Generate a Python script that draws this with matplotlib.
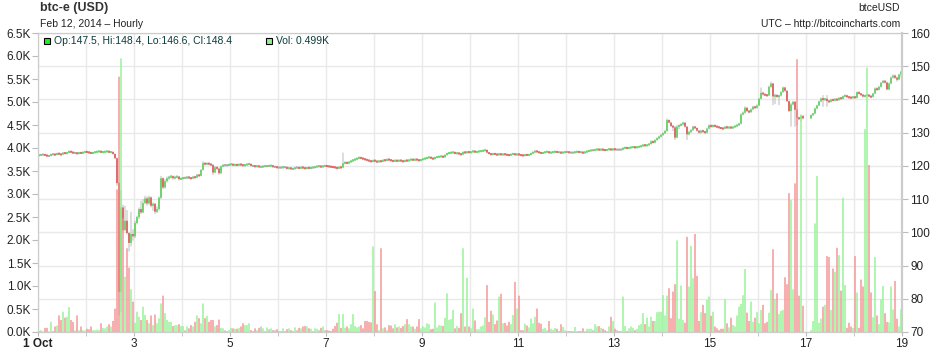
import numpy as np
import pandas as pd
import matplotlib
matplotlib.use('Agg')
import matplotlib.pyplot as plt
from matplotlib.patches import Rectangle

plt.rcParams['font.family'] = ['Liberation Sans', 'DejaVu Sans']

nan = np.nan

# Hourly btc-e candles, 1 Oct 00:00 -> 18 Oct 23:00 (hours 383-385 have no trades)
first_open = 123.2
closes = [
    123.2, 123.4, 123.4, 123.2, 123.0, 123.0, 123.5, 123.5, 123.3, 123.8,
    123.5, 123.4, 124.0, 123.7, 124.0, 124.4, 124.1, 123.9, 123.9, 123.7,
    124.0, 123.8, 124.1, 124.3, 124.1, 124.0, 123.8, 124.0, 124.2, 124.3,
    124.4, 124.1, 124.2, 124.3, 124.4, 124.1, 124.2, 123.6, 122.3, 114.8,
    82.0, 107.5, 100.7, 103.5, 99.8, 96.8, 99.5, 98.8, 102.8, 104.6,
    107.0, 106.0, 108.8, 110.2, 108.7, 110.5, 108.0, 108.6, 106.2, 107.0,
    110.4, 116.3, 113.5, 115.4, 116.3, 116.6, 116.9, 116.3, 116.6, 116.8,
    116.0, 116.2, 116.4, 116.4, 116.6, 116.4, 116.2, 116.7, 116.5, 117.3,
    117.0, 118.8, 120.8, 120.5, 120.8, 120.5, 120.3, 118.0, 119.6, 119.2,
    117.8, 119.9, 120.2, 120.2, 120.2, 120.4, 120.5, 120.2, 120.4, 120.2,
    120.5, 120.3, 120.1, 120.3, 120.5, 120.6, 120.0, 120.0, 119.8, 120.0,
    119.7, 119.7, 119.9, 119.9, 120.0, 120.0, 120.1, 119.7, 119.7, 119.5,
    119.5, 119.5, 119.6, 119.6, 119.2, 119.4, 119.1, 119.1, 119.5, 119.5,
    119.3, 119.6, 119.4, 119.2, 119.5, 119.3, 119.5, 119.5, 119.7, 119.9,
    119.9, 119.7, 120.0, 120.0, 119.9, 119.8, 119.7, 119.6, 119.5, 119.3,
    119.6, 119.5, 120.8, 121.0, 120.8, 121.2, 121.5, 121.8, 122.0, 122.3,
    122.5, 122.3, 122.1, 121.9, 121.7, 121.5, 121.3, 121.7, 121.4, 121.2,
    121.5, 121.3, 121.8, 121.6, 122.0, 121.8, 121.6, 121.4, 121.7, 121.4,
    121.7, 121.5, 121.3, 121.7, 121.5, 121.8, 122.0, 121.7, 122.0, 121.8,
    121.6, 121.9, 122.1, 122.3, 122.5, 122.6, 122.3, 122.1, 122.6, 122.7,
    122.8, 122.9, 122.6, 123.3, 123.8, 123.9, 124.0, 124.1, 123.7, 123.9,
    123.6, 123.4, 124.2, 123.9, 124.3, 124.0, 124.2, 124.5, 124.1, 124.3,
    124.4, 124.5, 124.6, 124.8, 124.0, 123.7, 123.4, 123.7, 123.5, 123.3,
    123.7, 123.3, 123.6, 123.4, 123.3, 123.2, 123.5, 123.7, 123.3, 123.6,
    123.3, 123.2, 123.1, 123.4, 123.2, 123.4, 123.8, 124.1, 124.5, 124.2,
    124.0, 123.8, 124.0, 124.2, 124.3, 123.9, 124.1, 124.2, 124.3, 124.1,
    124.1, 123.9, 124.1, 124.2, 124.2, 124.0, 124.0, 124.0, 124.2, 124.3,
    124.1, 124.1, 123.9, 124.2, 124.4, 124.6, 124.7, 124.7, 124.9, 125.0,
    124.8, 125.0, 124.8, 124.7, 124.9, 125.1, 124.8, 125.1, 124.9, 124.9,
    124.9, 124.9, 125.4, 125.5, 125.3, 125.5, 125.6, 125.7, 125.5, 125.7,
    125.8, 126.0, 126.3, 126.1, 126.3, 126.6, 127.4, 127.0, 127.8, 128.3,
    128.8, 129.3, 129.8, 130.5, 133.8, 133.0, 132.0, 131.6, 128.5, 131.8,
    132.2, 132.5, 133.0, 131.8, 129.5, 130.2, 130.8, 131.8, 131.4, 130.6,
    130.0, 130.6, 130.3, 130.0, 131.2, 132.2, 131.8, 132.2, 131.9, 131.7,
    131.5, 131.3, 131.2, 131.8, 131.4, 131.7, 131.4, 131.7, 132.0, 132.3,
    132.7, 135.5, 136.0, 137.5, 136.5, 136.2, 137.0, 137.8, 137.5, 138.2,
    140.2, 142.0, 141.5, 141.3, 141.2, 143.8, 144.8, 140.9, 141.3, 140.8,
    141.2, 142.2, 143.6, 142.6, 139.5, 136.5, 138.5, 139.3, 136.9, 134.5,
    134.2, 135.0, 134.3, nan, nan, nan, 135.3, 135.8, 137.3, 138.2,
    139.4, 140.3, 139.9, 140.2, 139.5, 139.3, 140.0, 139.7, 140.1, 139.8,
    140.5, 140.2, 141.0, 141.2, 140.7, 140.6, 140.5, 140.8, 140.5, 142.2,
    141.7, 141.4, 140.9, 141.2, 141.4, 140.9, 140.8, 141.8, 143.3, 142.9,
    143.8, 145.0, 145.6, 145.1, 143.0, 144.8, 146.6, 147.2, 146.5, 146.0,
    147.5, 148.4,
]
highs = [
    123.5, 123.6, 123.6, 123.6, 123.4, 123.2, 123.7, 123.8, 123.7, 124.0,
    124.0, 123.7, 124.2, 124.2, 124.2, 124.6, 124.5, 124.3, 124.1, 124.1,
    124.2, 124.2, 124.3, 124.5, 124.5, 124.3, 124.2, 124.2, 124.4, 124.5,
    124.6, 124.6, 124.4, 124.5, 124.6, 124.6, 124.4, 124.4, 123.8, 122.5,
    115.2, 112.7, 108.3, 108.0, 106.7, 100.0, 106.2, 101.0, 103.5, 105.0,
    107.5, 109.5, 110.0, 111.0, 110.8, 111.0, 110.8, 109.0, 108.8, 107.8,
    110.8, 117.0, 116.5, 116.0, 116.8, 117.0, 117.3, 117.1, 117.0, 117.2,
    117.0, 116.5, 116.7, 116.7, 116.9, 116.9, 116.6, 117.0, 117.0, 117.6,
    117.6, 119.0, 121.4, 121.0, 121.0, 121.0, 120.7, 120.5, 119.9, 119.8,
    119.5, 120.1, 120.5, 120.5, 120.4, 120.7, 120.8, 120.7, 120.6, 120.6,
    120.7, 120.7, 120.5, 120.5, 120.7, 120.9, 120.8, 120.3, 120.2, 120.3,
    120.2, 120.0, 120.1, 120.2, 120.2, 120.2, 120.4, 120.3, 120.0, 119.9,
    119.8, 119.7, 119.9, 119.8, 119.8, 119.6, 119.6, 119.4, 119.7, 119.8,
    119.7, 119.8, 119.8, 119.6, 119.7, 119.7, 119.7, 119.7, 119.9, 120.1,
    120.1, 120.1, 120.2, 120.3, 120.2, 120.1, 120.0, 119.9, 119.8, 119.7,
    119.8, 119.8, 124.0, 121.4, 121.3, 121.4, 121.7, 122.1, 122.3, 122.5,
    122.8, 122.7, 122.5, 122.3, 122.1, 121.9, 121.7, 121.9, 121.9, 121.6,
    121.7, 121.7, 122.0, 122.0, 122.2, 122.2, 122.0, 121.8, 121.9, 121.9,
    121.9, 121.9, 121.7, 121.9, 121.9, 122.0, 122.2, 122.2, 122.2, 122.2,
    122.0, 122.1, 122.3, 122.5, 122.7, 122.9, 122.8, 122.5, 122.8, 123.0,
    123.0, 123.1, 123.1, 123.5, 124.0, 124.1, 124.3, 124.4, 124.3, 124.1,
    124.1, 123.8, 124.4, 124.4, 124.5, 124.5, 124.4, 124.7, 124.7, 124.5,
    124.6, 124.7, 124.8, 125.0, 125.0, 124.2, 123.9, 123.9, 123.9, 123.7,
    123.9, 123.9, 123.8, 123.8, 123.6, 123.5, 123.7, 123.9, 123.9, 123.8,
    123.8, 123.5, 123.4, 123.6, 123.6, 123.6, 124.0, 124.3, 124.7, 124.7,
    124.4, 124.2, 124.2, 124.4, 124.5, 124.5, 124.3, 124.4, 124.5, 124.5,
    124.3, 124.3, 124.3, 124.4, 124.4, 124.4, 124.2, 124.2, 124.4, 124.5,
    124.5, 124.3, 124.3, 124.4, 124.6, 124.8, 124.9, 124.9, 125.1, 125.2,
    125.2, 125.2, 125.2, 125.0, 125.1, 125.3, 125.3, 125.3, 125.3, 125.1,
    125.1, 125.1, 125.6, 125.7, 125.7, 125.7, 125.8, 125.9, 125.9, 125.9,
    126.0, 126.2, 126.5, 126.5, 126.5, 126.8, 127.7, 127.6, 128.0, 128.6,
    129.1, 129.6, 130.1, 130.8, 134.3, 134.0, 133.3, 132.3, 132.0, 132.3,
    132.5, 132.8, 133.3, 133.2, 132.0, 130.6, 131.1, 132.1, 132.0, 131.6,
    130.8, 130.9, 130.9, 130.5, 131.4, 132.5, 132.5, 132.5, 132.4, 132.1,
    131.9, 131.7, 131.5, 132.0, 132.1, 131.9, 131.9, 131.9, 132.2, 132.5,
    133.0, 135.8, 136.4, 137.9, 137.7, 136.8, 137.3, 138.1, 138.0, 138.5,
    140.5, 143.6, 142.3, 141.8, 141.6, 144.2, 145.3, 145.0, 141.7, 141.6,
    141.4, 142.5, 143.9, 143.8, 142.8, 139.7, 139.0, 139.6, 139.5, 137.2,
    134.8, 135.3, 135.3, nan, nan, nan, 135.5, 136.0, 137.5, 138.4,
    139.6, 140.6, 141.3, 140.4, 141.3, 139.8, 140.2, 140.2, 140.4, 140.3,
    140.7, 140.7, 141.2, 141.4, 141.4, 140.9, 140.8, 141.0, 141.0, 142.4,
    142.5, 141.9, 141.6, 141.4, 141.6, 141.6, 141.1, 142.0, 143.6, 143.7,
    144.1, 145.3, 145.9, 145.8, 145.4, 145.1, 146.9, 147.5, 147.5, 146.9,
    147.7, 148.4,
]
lows = [
    122.9, 123.0, 123.2, 123.0, 122.8, 122.8, 122.9, 123.2, 123.1, 123.2,
    123.3, 123.2, 123.3, 123.5, 123.5, 123.9, 123.9, 123.7, 123.7, 123.5,
    123.5, 123.6, 123.6, 123.9, 123.9, 123.8, 123.6, 123.6, 123.8, 124.0,
    124.1, 123.9, 123.9, 124.0, 124.1, 123.9, 123.9, 123.4, 122.0, 114.0,
    75.0, 76.0, 100.2, 100.3, 99.4, 94.2, 95.7, 97.5, 98.3, 102.4,
    104.0, 105.5, 105.8, 108.5, 108.0, 108.3, 107.5, 106.5, 105.5, 105.8,
    106.6, 110.0, 113.0, 113.2, 115.0, 115.8, 116.2, 115.8, 116.0, 116.3,
    115.6, 115.8, 116.0, 116.1, 116.2, 116.1, 115.9, 116.0, 116.2, 116.3,
    116.8, 116.9, 118.6, 120.2, 120.3, 120.2, 120.0, 117.3, 117.8, 118.8,
    117.3, 117.6, 119.7, 120.0, 119.9, 120.0, 120.2, 120.0, 120.0, 119.9,
    120.0, 120.1, 119.9, 119.9, 120.1, 120.3, 119.8, 119.7, 119.6, 119.6,
    119.5, 119.4, 119.5, 119.7, 119.7, 119.8, 119.8, 119.5, 119.4, 119.3,
    119.3, 119.2, 119.3, 119.4, 118.9, 119.0, 118.9, 118.8, 118.9, 119.2,
    119.1, 119.1, 119.2, 119.0, 119.0, 119.1, 119.1, 119.3, 119.3, 119.5,
    119.6, 119.5, 119.5, 119.8, 119.7, 119.6, 119.5, 119.4, 119.2, 118.9,
    119.1, 119.3, 119.4, 120.5, 120.5, 120.5, 120.9, 121.2, 121.5, 121.7,
    122.0, 122.0, 121.8, 121.6, 121.4, 121.2, 121.0, 121.1, 121.1, 120.9,
    121.0, 121.1, 121.1, 121.4, 121.4, 121.6, 121.3, 121.1, 121.2, 121.1,
    121.2, 121.3, 121.0, 121.1, 121.3, 121.3, 121.6, 121.5, 121.5, 121.6,
    121.3, 121.4, 121.7, 121.9, 122.1, 122.3, 122.1, 121.9, 121.9, 122.4,
    122.5, 122.6, 122.4, 122.4, 123.1, 123.6, 123.7, 123.8, 123.5, 123.5,
    123.4, 123.2, 123.2, 123.7, 123.7, 123.8, 123.8, 124.0, 123.9, 123.9,
    124.1, 124.2, 124.3, 124.4, 123.8, 123.5, 123.1, 123.2, 123.3, 123.0,
    123.1, 123.1, 123.1, 123.2, 123.1, 122.9, 123.0, 123.3, 123.0, 123.1,
    123.1, 123.0, 122.9, 122.9, 123.0, 123.0, 123.2, 123.6, 123.9, 124.0,
    123.8, 123.6, 123.6, 123.8, 124.0, 123.7, 123.7, 123.9, 124.0, 123.9,
    123.9, 123.7, 123.7, 123.9, 124.0, 123.8, 123.8, 123.8, 123.8, 124.0,
    123.9, 123.9, 123.7, 123.7, 124.0, 124.2, 124.4, 124.5, 124.5, 124.7,
    124.6, 124.6, 124.6, 124.5, 124.5, 124.7, 124.6, 124.6, 124.7, 124.7,
    124.7, 124.7, 124.7, 125.2, 125.1, 125.1, 125.3, 125.4, 125.3, 125.3,
    125.5, 125.6, 125.8, 125.9, 125.9, 126.1, 126.4, 126.7, 126.8, 127.6,
    128.0, 128.6, 129.1, 129.6, 130.3, 132.8, 131.7, 130.5, 127.8, 128.3,
    131.0, 131.9, 132.2, 131.5, 127.8, 129.2, 129.9, 130.5, 131.1, 130.3,
    129.7, 129.7, 130.0, 129.7, 129.8, 131.0, 131.5, 131.5, 131.6, 131.4,
    131.3, 131.1, 130.9, 131.0, 131.1, 131.2, 131.1, 131.2, 131.5, 131.8,
    132.0, 132.5, 135.2, 135.7, 136.2, 135.8, 135.9, 136.8, 137.2, 137.2,
    138.0, 140.0, 141.2, 141.0, 140.9, 141.0, 143.5, 138.3, 138.6, 140.5,
    138.3, 140.9, 142.0, 142.3, 139.2, 136.2, 131.8, 138.2, 131.8, 132.3,
    133.8, 133.3, 134.0, nan, nan, nan, 134.1, 135.0, 135.5, 137.0,
    138.0, 139.2, 137.8, 139.6, 137.8, 139.0, 139.1, 139.5, 139.4, 139.6,
    139.6, 140.0, 140.0, 140.8, 140.5, 140.4, 140.3, 140.3, 140.3, 140.3,
    141.5, 141.2, 140.6, 140.6, 141.0, 140.7, 140.5, 140.6, 141.6, 142.6,
    142.7, 143.6, 144.8, 144.8, 142.8, 142.8, 144.6, 146.3, 146.2, 145.4,
    145.8, 146.6,
]
# volume in thousands
vols = [
    0.02, 0.04, 0.01, 0.09, 0.09, 0.01, 0.22, 0.02, 0.12, 0.14,
    0.36, 0.26, 0.44, 0.31, 0.33, 0.54, 0.26, 0.22, 0.03, 0.36,
    0.04, 0.12, 0.04, 0.03, 0.07, 0.06, 0.12, 0.04, 0.04, 0.05,
    0.04, 0.19, 0.09, 0.08, 0.12, 0.17, 0.12, 0.24, 0.51, 3.10,
    5.55, 5.95, 2.47, 1.20, 1.82, 1.40, 0.93, 0.66, 0.20, 0.44,
    0.33, 0.26, 0.55, 0.37, 0.26, 0.19, 0.36, 0.15, 0.38, 0.19,
    0.30, 0.62, 0.79, 0.41, 0.26, 0.22, 0.22, 0.13, 0.15, 0.15,
    0.17, 0.13, 0.13, 0.04, 0.12, 0.08, 0.15, 0.12, 0.22, 0.36,
    0.30, 0.19, 0.62, 0.30, 0.35, 0.22, 0.26, 0.26, 0.12, 0.15,
    0.27, 0.09, 0.08, 0.04, 0.02, 0.04, 0.09, 0.08, 0.07, 0.07,
    0.09, 0.12, 0.19, 0.15, 0.15, 0.19, 0.04, 0.02, 0.08, 0.04,
    0.09, 0.12, 0.08, 0.02, 0.10, 0.06, 0.08, 0.04, 0.04, 0.06,
    0.02, 0.02, 0.08, 0.02, 0.06, 0.08, 0.04, 0.02, 0.10, 0.04,
    0.09, 0.08, 0.12, 0.13, 0.12, 0.08, 0.07, 0.02, 0.08, 0.07,
    0.04, 0.09, 0.12, 0.04, 0.04, 0.03, 0.02, 0.07, 0.13, 0.20,
    0.39, 0.09, 0.39, 0.09, 0.12, 0.08, 0.17, 0.39, 0.13, 0.10,
    0.12, 0.15, 0.08, 0.24, 0.24, 0.22, 0.21, 1.86, 0.89, 0.17,
    0.04, 1.82, 0.08, 0.10, 0.04, 0.15, 0.14, 0.08, 0.17, 0.10,
    0.12, 0.09, 0.13, 0.17, 0.28, 0.17, 0.12, 0.12, 0.07, 0.12,
    0.28, 0.08, 0.12, 0.10, 0.19, 0.17, 0.06, 0.07, 0.64, 0.10,
    0.15, 0.14, 0.13, 0.31, 0.84, 0.26, 0.28, 0.48, 0.08, 0.13,
    0.09, 0.41, 1.82, 0.12, 1.18, 0.12, 0.08, 0.51, 0.25, 0.06,
    0.06, 0.12, 0.14, 0.32, 1.02, 0.22, 0.46, 0.38, 0.17, 0.25,
    0.77, 0.83, 0.19, 0.20, 0.14, 0.22, 0.17, 0.37, 1.09, 0.51,
    0.79, 0.04, 0.04, 0.18, 0.14, 0.10, 0.29, 0.19, 0.33, 0.51,
    0.20, 0.18, 0.07, 0.09, 0.04, 0.24, 0.07, 0.05, 0.09, 0.07,
    0.02, 0.17, 0.11, 0.04, 0.02, 0.02, 0.02, 0.02, 0.11, 0.02,
    0.02, 0.02, 0.08, 0.02, 0.07, 0.07, 0.07, 0.04, 0.17, 0.12,
    0.13, 0.09, 0.07, 0.04, 0.02, 0.12, 0.33, 0.24, 0.07, 0.04,
    0.02, 0.02, 0.77, 0.13, 0.02, 0.08, 0.12, 0.09, 0.04, 0.07,
    0.15, 0.17, 0.41, 0.17, 0.31, 0.12, 0.33, 0.24, 0.24, 0.43,
    0.44, 0.44, 0.80, 0.36, 0.79, 0.95, 0.30, 0.88, 1.04, 1.99,
    0.29, 1.01, 0.26, 0.20, 2.07, 0.99, 1.87, 1.17, 2.13, 1.22,
    0.24, 0.43, 0.59, 0.41, 0.70, 0.77, 0.35, 0.44, 0.12, 0.08,
    0.04, 0.07, 0.07, 0.72, 0.19, 0.10, 0.31, 0.15, 0.12, 0.36,
    0.55, 0.61, 0.80, 1.37, 0.42, 0.24, 0.66, 0.22, 0.31, 0.43,
    0.19, 0.48, 0.59, 0.19, 0.22, 0.42, 0.91, 1.80, 0.72, 0.84,
    0.39, 0.46, 0.48, 1.19, 1.04, 3.02, 2.87, 0.93, 3.23, 5.93,
    0.79, 4.73, 0.57, nan, nan, nan, 0.04, 0.24, 2.36, 3.39,
    0.20, 0.29, 0.55, 0.59, 1.65, 1.63, 0.48, 1.38, 1.31, 1.83,
    1.67, 0.90, 2.92, 1.02, 0.09, 0.20, 0.12, 0.09, 1.65, 0.86,
    0.09, 1.14, 0.99, 4.41, 5.75, 3.63, 0.86, 0.32, 1.63, 0.36,
    0.17, 0.71, 1.00, 0.41, 0.22, 0.21, 0.99, 0.49, 1.11, 0.29,
    0.12, 0.499,
]
day_labels = ['1 Oct', '3', '5', '7', '9', '11', '13', '15', '17', '19']

# OHLC arrays (open = previous close)
c = np.array(closes, float)
o = pd.Series(c).ffill().shift(1).to_numpy()
o[0] = first_open
hi = np.fmax(np.array(highs, float), np.maximum(o, c))
lo = np.fmin(np.array(lows, float), np.minimum(o, c))
v = np.array(vols, float)
x = np.arange(len(c)) + 0.5

up = c > o
dn = c < o
body_cols = np.where(up, '#22ee22', np.where(dn, '#ff2020', '#999999'))
vol_cols = np.where(up, '#8ff38f', np.where(dn, '#f58f8f', '#bdbdbd'))

# tiny bodies get a minimum visible height
body_h = np.abs(c - o)
small = body_h < 0.6
body_bot = np.where(small, (o + c) / 2 - 0.3, np.minimum(o, c))
body_h = np.where(small, 0.6, body_h)

# 2 px per hour so candles land on whole pixels
W, H = 940, 348
fig = plt.figure(figsize=(W / 100, H / 100), dpi=100)
ax = fig.add_axes([38 / W, 16 / H, 2 * len(c) / W, 299 / H])
axv = ax.twinx()   # volume axis, drawn on top

# price axis (right side) with grid
ax.set_xlim(0, len(c))
ax.set_ylim(70, 160)
ax.yaxis.tick_right()
ax.yaxis.set_label_position('right')
ax.set_yticks(range(70, 161, 10))
ax.set_xticks(range(0, len(c) + 1, 48))
ax.set_xticks(range(0, len(c) + 1, 24), minor=True)
ax.set_xticklabels(day_labels)
ax.get_xticklabels()[0].set_fontweight('bold')
ax.grid(True, which='both', axis='x', color='#e9e9e9', lw=1)
ax.grid(True, axis='y', color='#e9e9e9', lw=1)
ax.set_axisbelow(True)
ax.tick_params(axis='x', which='both', length=3, color='#bbbbbb', labelsize=8.5, pad=1, labelcolor='#222222')
ax.tick_params(axis='y', length=4, color='#bbbbbb', labelsize=8.5, pad=2, labelcolor='#222222')

# candles: thin grey wick behind a coloured body
ok = ~np.isnan(c)
ax.vlines(x[ok], lo[ok], hi[ok], color='#b0b0b0', lw=0.6, snap=False)
ax.bar(x[ok], body_h[ok], bottom=body_bot[ok], width=0.85, color=body_cols[ok], lw=0, snap=False)

# volume axis (left side)
axv.set_ylim(0, 6.5)
axv.yaxis.tick_left()
axv.yaxis.set_label_position('left')
vt = np.arange(0, 6.51, 0.5)
axv.set_yticks(vt)
axv.set_yticklabels([f'{t:.1f}K' for t in vt])
axv.tick_params(axis='y', length=4, color='#bbbbbb', labelsize=8.5, pad=1, labelcolor='#222222')
axv.bar(x[ok], v[ok], width=0.7, color=vol_cols[ok], lw=0, snap=False)

for a in (ax, axv):
    for s in a.spines.values():
        s.set_color('#cccccc')
    a.spines['right'].set_linewidth(1.5)

# header texts
fig.text(40 / W, 1 - 8 / H, 'btc-e (USD)', fontsize=9, fontweight='bold', color='#333333', va='center')
fig.text(40 / W, 1 - 24 / H, 'Feb 12, 2014 \u2013 Hourly', fontsize=7.5, color='#222222', va='center')
fig.text(900 / W, 1 - 8 / H, 'btceUSD', fontsize=7.5, color='#222222', va='center', ha='right')
fig.text(900 / W, 1 - 24 / H, 'UTC \u2013 http://bitcoincharts.com', fontsize=7.5, color='#222222', va='center', ha='right')

# legend with last candle values
fig.add_artist(Rectangle((44 / W, 1 - 44 / H), 6 / W, 6 / H, transform=fig.transFigure,
                         facecolor='#22ee22', edgecolor='black', lw=0.8))
fig.text(54 / W, 1 - 41 / H, f'Op:{o[-1]:.1f}, Hi:{hi[-1]:.1f}, Lo:{lo[-1]:.1f}, Cl:{c[-1]:.1f}',
         fontsize=7.5, color='#0b3b3b', va='center')
fig.add_artist(Rectangle((266 / W, 1 - 44 / H), 6 / W, 6 / H, transform=fig.transFigure,
                         facecolor='#8ff38f', edgecolor='black', lw=0.8))
fig.text(276 / W, 1 - 41 / H, f'Vol: {v[-1]:.3f}K', fontsize=7.5, color='#0b3b3b', va='center')

fig.savefig('out.png', dpi=100)
